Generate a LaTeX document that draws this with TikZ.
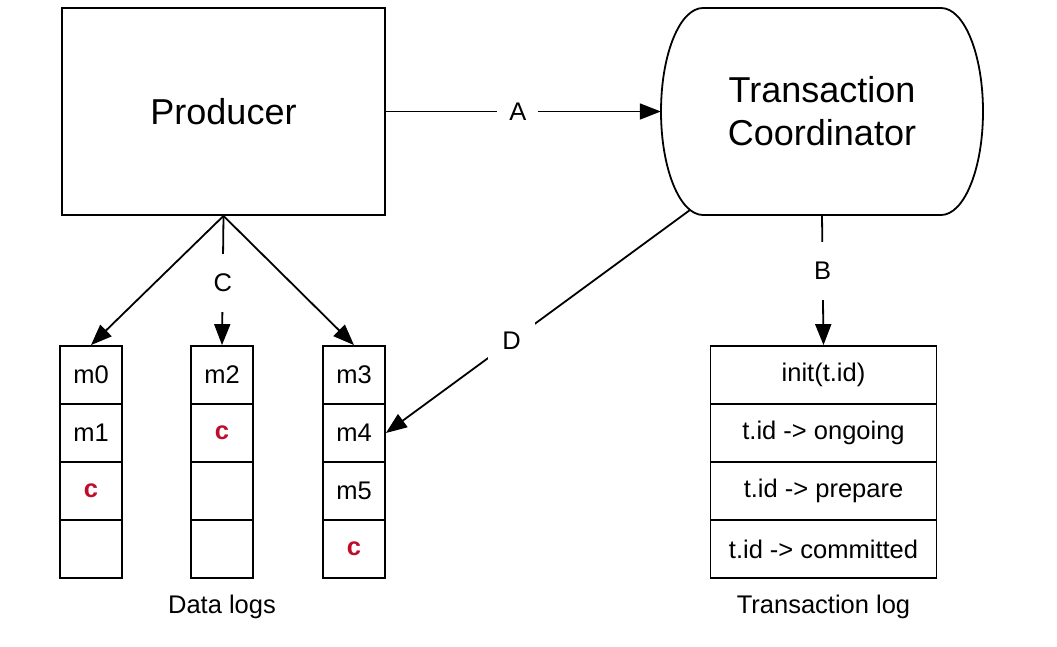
\documentclass[tikz,border=0pt]{standalone}
\usepackage{fontspec}
\setmainfont{Liberation Sans}
\usetikzlibrary{arrows.meta}
\definecolor{cred}{RGB}{190,12,42}
\tikzset{
  box/.style={draw, line width=1.8pt, inner sep=0pt},
  cell/.style={box, minimum width=62pt, minimum height=58pt, font=\fontsize{25.5}{30}\selectfont},
  tcell/.style={box, minimum width=226pt, minimum height=58pt, font=\fontsize{25.5}{30}\selectfont},
  conn/.style={line width=1.8pt, -{Triangle[length=21pt,width=16pt]}},
  lbl/.style={fill=white, font=\fontsize{25.5}{30}\selectfont, inner sep=0pt},
  big/.style={font=\fontsize{36}{43}\selectfont, align=center},
  caption/.style={font=\fontsize{25.5}{30}\selectfont, inner sep=0pt},
  cc/.style={text=cred, font=\fontsize{25.5}{30}\selectfont\bfseries}
}
\begin{document}
\begin{tikzpicture}[x=1pt,y=-1pt]
\fill[white] (0,0) rectangle (1057,647);
\useasboundingbox (0,0) rectangle (1057,647);

% Producer
\node[box, big, minimum width=323pt, minimum height=207pt] (prod) at (223.5,111.5) {Producer};

% Transaction coordinator
\node[big, minimum width=322pt, minimum height=207pt, inner sep=0pt] (tc) at (822,111.5) {Transaction\\Coordinator};
\draw[line width=1.8pt] (703,8) -- (941,8) arc[start angle=-90, end angle=90, x radius=42, y radius=103.5]
  -- (703,215) arc[start angle=90, end angle=270, x radius=42, y radius=103.5] -- cycle;
\coordinate (tcD) at (690,210);

% Data logs
\node[cell] (a1) at (91,375) {m0};
\node[cell] (a2) at (91,433) {m1};
\node[cell, cc] (a3) at (91,491) {c};
\node[cell] (a4) at (91,549) {};

\node[cell] (b1) at (222,375) {m2};
\node[cell, cc] (b2) at (222,433) {c};
\node[cell] (b3) at (222,491) {};
\node[cell] (b4) at (222,549) {};

\node[cell] (d1) at (354,375) {m3};
\node[cell] (d2) at (354,433) {m4};
\node[cell] (d3) at (354,491) {m5};
\node[cell, cc] (d4) at (354,549) {c};

\node[caption] (dl) at (222,607) {Data logs};

% Transaction log
\node[tcell] (t1) at (823.5,375) {init(t.id)};
\node[tcell] (t2) at (823.5,433) {t.id -> ongoing};
\node[tcell] (t3) at (823.5,491) {t.id -> prepare};
\node[tcell] (t4) at (823.5,549) {t.id -> committed};
\node[caption] (tl) at (823.5,607) {Transaction log};

% Connectors
\draw[conn] (prod.east) -- node[lbl, pos=0.48, inner xsep=12pt, inner ysep=4pt] {A} (tc.west);
\draw[conn] (prod.south) -- (a1.north);
\draw[conn] (prod.south) -- (d1.north);
\draw[conn] (prod.south) -- node[lbl, pos=0.52, inner ysep=20pt, inner xsep=4pt] {C} (b1.north);
\draw[conn] (tc.south) -- node[lbl, pos=0.43, inner ysep=20pt, inner xsep=4pt] {B} (t1.north);
\draw[conn] (tcD) -- node[lbl, pos=0.587, inner sep=14pt] {D} (d2.east);
\end{tikzpicture}
\end{document}
